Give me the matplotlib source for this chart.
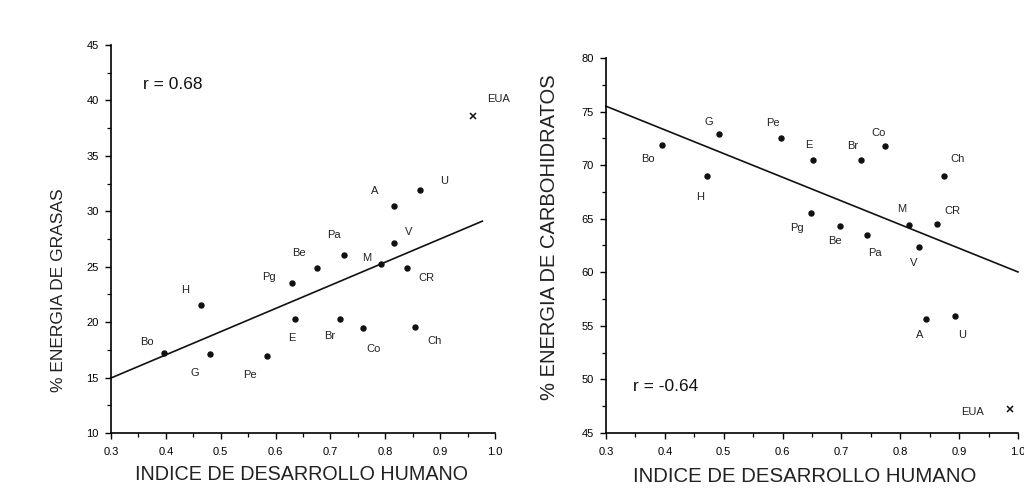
import matplotlib
matplotlib.use("Agg")
import matplotlib.pyplot as plt
import numpy as np
from matplotlib.ticker import MultipleLocator

plt.rcParams['font.family'] = ['Liberation Sans', 'DejaVu Sans']

# country codes
countries = ["Bo", "H", "G", "Pe", "Pg", "E", "Be", "Pa", "Br", "M",
             "Co", "V", "A", "CR", "Ch", "U", "EUA"]

# left panel: fat energy vs HDI
idh_fat = [0.397, 0.464, 0.480, 0.584, 0.630, 0.635, 0.675, 0.725, 0.718, 0.793,
           0.760, 0.815, 0.816, 0.839, 0.854, 0.863, 0.959]
fat = [17.2, 21.5, 17.1, 16.9, 23.5, 20.3, 24.9, 26.1, 20.3, 25.2,
       19.5, 27.1, 30.5, 24.9, 19.6, 31.9, 38.6]
fat_fit = (20.9, 8.69)        # slope, intercept
fat_fit_range = (0.3, 0.977)
fat_r = "r = 0.68"

# right panel: carbohydrate energy vs HDI
idh_cho = [0.395, 0.472, 0.492, 0.597, 0.648, 0.652, 0.698, 0.744, 0.733, 0.815,
           0.774, 0.832, 0.843, 0.862, 0.874, 0.893, 0.986]
cho = [71.9, 69.0, 72.9, 72.5, 65.5, 70.5, 64.3, 63.5, 70.5, 64.4,
       71.8, 62.4, 55.6, 64.5, 69.0, 55.9, 47.2]
cho_fit = (-22.1, 82.13)
cho_fit_range = (0.3, 1.0)
cho_r = "r = -0.64"

# label offsets in pixels (dx, dy) for each country
off_fat = [(-17, 11), (-16, 15), (-15, -19), (-17, -19), (-23, 6), (-3, -19),
           (-18, 15), (-10, 20), (-11, -17), (-15, 6), (10, -21), (15, 11),
           (-19, 15), (20, -10), (20, -14), (24, 9), (26, 17)]
off_cho = [(-14, -14), (-7, -21), (-10, 12), (-8, 15), (-14, -15), (-4, 15),
           (-5, -15), (8, -18), (-8, 14), (-7, 16), (-6, 13), (-5, -16),
           (-6, -16), (16, 13), (14, 17), (7, -19), (-37, -3)]

fig = plt.figure(figsize=(10.24, 4.97), dpi=100)
ax1 = fig.add_axes([0.1084, 0.1288, 0.375, 0.7807])
ax2 = fig.add_axes([0.5918, 0.1288, 0.4023, 0.7545])


def draw_panel(ax, x, y, fit, fit_range, offs, r_text, r_pos, ylim,
               ylabel, ylab_size, ylab_pos, xlab_size, xlab_pos):
    # dots for all but EUA, cross for EUA
    ax.plot(x[:-1], y[:-1], 'o', color='#111111', markersize=3.6, zorder=3)
    ax.plot(x[-1:], y[-1:], 'x', color='#111111', markersize=4, mew=1.1, zorder=3)
    xs = np.array(fit_range)
    ax.plot(xs, fit[0] * xs + fit[1], color='#111111', lw=1.2, clip_on=False)
    for name, xi, yi, o in zip(countries, x, y, offs):
        ax.annotate(name, (xi, yi), xytext=o, textcoords='offset pixels',
                    ha='center', va='center', fontsize=8, color='#222222')
    ax.text(r_pos[0], r_pos[1], r_text, fontsize=12.5, ha='left', va='center', color='#111111')

    ax.set_xlim(0.3, 1.0)
    ax.set_ylim(*ylim)
    ax.xaxis.set_minor_locator(MultipleLocator(0.05))
    ax.yaxis.set_major_locator(MultipleLocator(5))
    ax.yaxis.set_minor_locator(MultipleLocator(2.5))
    ax.set_xticks(np.arange(0.3, 1.01, 0.1))
    ax.set_xticklabels([f"{v:.1f}" for v in np.arange(0.3, 1.01, 0.1)])
    for s in ['top', 'right']:
        ax.spines[s].set_visible(False)
    for s in ['left', 'bottom']:
        ax.spines[s].set_linewidth(1.2)
    ax.tick_params(which='major', direction='out', length=4, width=1, labelsize=8)
    ax.tick_params(axis='x', which='major', pad=6)
    ax.tick_params(axis='y', which='major', pad=5)
    ax.tick_params(which='minor', direction='out', length=3, width=0.9)
    ax.set_ylabel(ylabel, fontsize=ylab_size, color='#222222')
    ax.yaxis.set_label_coords(*ylab_pos)
    ax.set_xlabel("INDICE DE DESARROLLO HUMANO", fontsize=xlab_size, color='#222222')
    ax.xaxis.set_label_coords(*xlab_pos)


draw_panel(ax1, idh_fat, fat, fat_fit, fat_fit_range, off_fat, fat_r, (0.358, 41.4),
           (10, 45), "% ENERGIA DE GRASAS", 12.5, (-0.117, 0.369), 14.2, (0.495, -0.082))
draw_panel(ax2, idh_cho, cho, cho_fit, cho_fit_range, off_cho, cho_r, (0.346, 49.3),
           (45, 80), "% ENERGIA DE CARBOHIDRATOS", 14.5, (-0.114, 0.523), 14.7, (0.483, -0.091))

fig.savefig("out.png", dpi=100)
